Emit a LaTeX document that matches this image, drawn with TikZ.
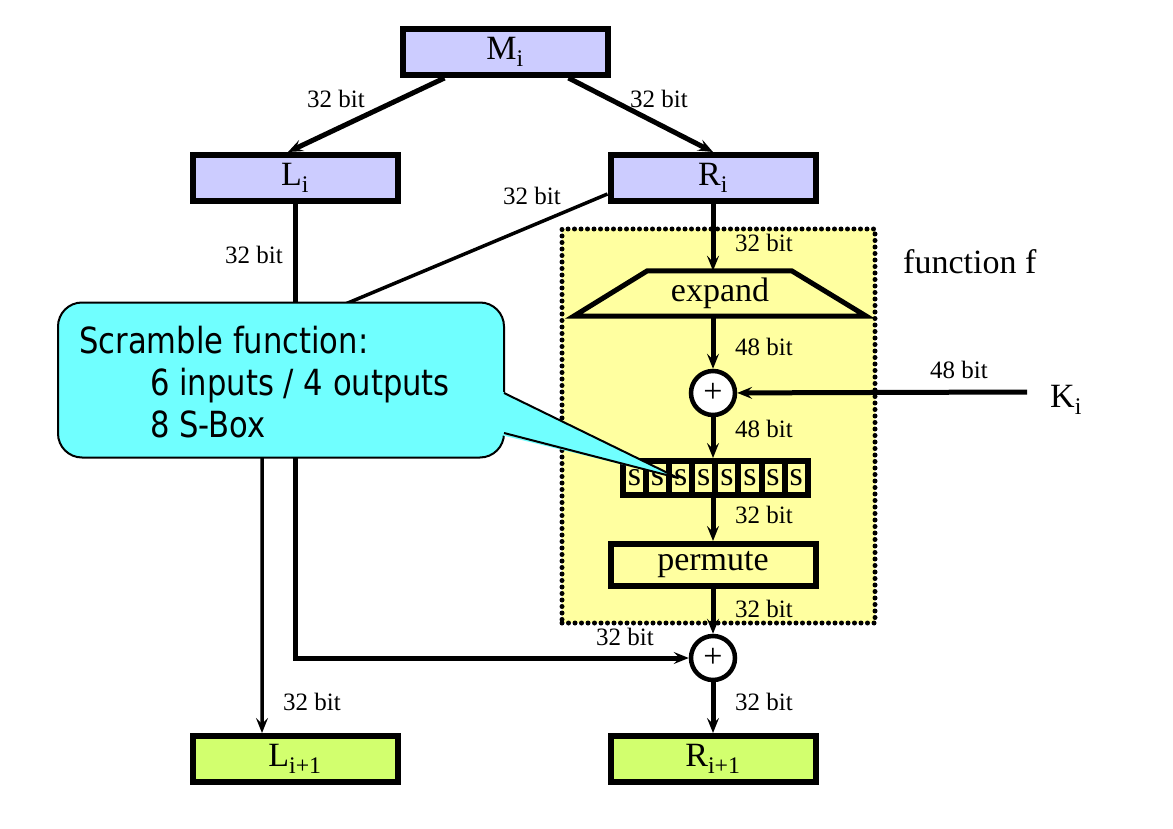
\documentclass[tikz,border=0pt]{standalone}
\usepackage{fontspec}
\setmainfont{Liberation Serif}
\newfontfamily\notefont[FakeStretch=0.85]{DejaVu Sans}
\usetikzlibrary{arrows.meta}

\definecolor{regblue}{RGB}{204,204,255}
\definecolor{reggreen}{RGB}{210,255,110}
\definecolor{fyellow}{RGB}{255,255,160}
\definecolor{notecyan}{RGB}{112,255,255}

\tikzset{
  boxfont/.style={font=\fontsize{34}{40}\selectfont},
  bitlabel/.style={anchor=base west, inner sep=0pt, font=\fontsize{25}{30}\selectfont},
  regbox/.style={draw, line width=6pt, minimum width=205pt, minimum height=46pt, inner sep=0pt, boxfont},
  xorsym/.style={draw, circle, line width=4.5pt, fill=white, minimum size=44pt, inner sep=0pt, boxfont},
  sbox/.style={draw, line width=6pt, fill=fyellow, minimum width=23.1pt, minimum height=34pt, inner sep=0pt, boxfont},
  flow/.style={line width=5pt, -{Stealth[length=15pt,width=12pt,inset=6pt]}},
  notetext/.style={anchor=base west, inner sep=0pt, font=\notefont\fontsize{36}{42}\selectfont}
}

\begin{document}
\begin{tikzpicture}[x=1pt,y=-1pt]
  \useasboundingbox (0,0) rectangle (1173,829);

  % registers
  \node[regbox, fill=regblue] (Mi) at (505,52) {M\textsubscript{i}};
  \node[regbox, fill=regblue] (Li) at (295,178) {L\textsubscript{i}};
  \node[regbox, fill=regblue] (Ri) at (713,178) {R\textsubscript{i}};
  \node[regbox, fill=reggreen] (Ln) at (295,759) {L\textsubscript{i+1}};
  \node[regbox, fill=reggreen] (Rn) at (713,759) {R\textsubscript{i+1}};

  % function f
  \node[draw, fill=fyellow, line width=5pt, dash pattern=on 0pt off 6.5pt, line cap=round,
        minimum width=313pt, minimum height=394pt] (f) at (718.5,426) {};
  \node[anchor=base west, inner sep=0pt, boxfont] (fname) at (903,273) {function f};
  \draw[fill=fyellow, line width=5pt] (647,271) -- (792,271) -- (866,316) -- (574,316) -- cycle;
  \node[minimum height=45pt, inner sep=0pt, boxfont] (expand) at (720,293.5) {expand};
  \node[xorsym] (xorA) at (713,393) {+};
  \foreach \k in {1,...,8}
    \node[sbox] (s\k) at ({634.5+23.1*(\k-1)},478) {s};
  \node[regbox, fill=fyellow, minimum height=42pt] (perm) at (713,565) {permute};
  \node[xorsym] (xorB) at (713,658) {+};
  \node[anchor=base west, inner sep=0pt, boxfont] (Ki) at (1050,407) {K\textsubscript{i}};
  \coordinate (kin) at (1027,392);
  \coordinate (bend) at (262,339);

  % connectors
  \draw[flow] (Mi.south west) ++(45,0) coordinate (mA) -- (Li.north -| 288,0);
  \draw[flow] (Mi.south east) ++(-42,0) coordinate (mB) -- (Ri.north);
  \draw[flow] (Li) -- (Li |- xorB) -- (xorB);
  \draw[flow, line width=3.5pt] ([yshift=-16pt]Ri.west) -- (bend) -- (bend |- Ln.north);
  \draw[flow] (Ri) -- (Ri.south |- expand.north);
  \draw[flow] (expand.south -| xorA) -- (xorA);
  \draw[flow] (kin) -- (xorA);
  \draw[flow] (xorA) -- (xorA |- s4.north);
  \draw[flow] (xorA |- s4.south) -- (perm);
  \draw[flow] (perm) -- (xorB);
  \draw[flow] (xorB) -- (Rn);

  % bit widths
  \node[bitlabel] at (307,108) {32 bit};
  \node[bitlabel] at (630,108) {32 bit};
  \node[bitlabel] at (503,205) {32 bit};
  \node[bitlabel] at (225,263) {32 bit};
  \node[bitlabel] at (735,252) {32 bit};
  \node[bitlabel] at (735,355) {48 bit};
  \node[bitlabel] at (930,378) {48 bit};
  \node[bitlabel] at (735,437) {48 bit};
  \node[bitlabel] at (735,523) {32 bit};
  \node[bitlabel] at (735,617) {32 bit};
  \node[bitlabel] at (596,645) {32 bit};
  \node[bitlabel] at (283,710) {32 bit};
  \node[bitlabel] at (735,710) {32 bit};

  % callout
  \node[draw, fill=notecyan, line width=2pt, rounded corners=24pt,
        minimum width=446pt, minimum height=155pt] (note) at (281,380) {};
  \coordinate (tip) at (678,478);
  \fill[notecyan] (501,391) -- (tip) -- (501,435) -- cycle;
  \draw[line width=2pt, line join=round] (504,393) -- (tip) -- (504,433);
  \node[notetext] (noteA) at (79,353) {Scramble function:};
  \node[notetext] (noteB) at (150,395) {6 inputs / 4 outputs};
  \node[notetext] (noteC) at (150,437) {8 S-Box};
\end{tikzpicture}
\end{document}
